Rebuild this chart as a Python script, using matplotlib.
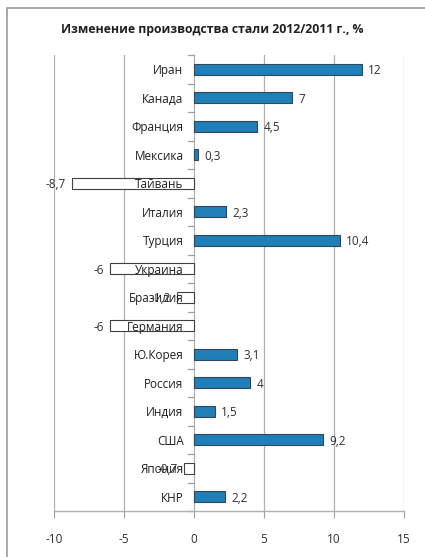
import matplotlib
matplotlib.use("Agg")
import matplotlib.pyplot as plt
from matplotlib.patches import Rectangle

categories = ["Иран", "Канада", "Франция", "Мексика", "Тайвань", "Италия", "Турция",
              "Украина", "Бразилия", "Германия", "Ю.Корея", "Россия", "Индия", "США",
              "Япония", "КНР"]
values = [12, 7, 4.5, 0.3, -8.7, 2.3, 10.4, -6, -1.2, -6, 3.1, 4, 1.5, 9.2, -0.7, 2.2]
value_labels = ["12", "7", "4,5", "0,3", "-8,7", "2,3", "10,4", "-6", "-1,2", "-6",
                "3,1", "4", "1,5", "9,2", "-0,7", "2,2"]
xticks = [-10, -5, 0, 5, 10, 15]
title = "Изменение производства стали 2012/2011 г., %"

plt.rcParams['font.family'] = ['Open Sans', 'DejaVu Sans']

W, H = 425, 557
fig = plt.figure(figsize=(W / 100, H / 100), dpi=100)
fig.patches.append(Rectangle((7 / W, -0.1), 1.2, 1 - 8 / H + 0.1, transform=fig.transFigure,
                             fill=False, edgecolor="#9a9a9a", linewidth=1.2))

ax = fig.add_axes([54 / W, 1 - 511 / H, 350 / W, (511 - 55) / H])
n = len(categories)
ypos = list(range(n))
for y, v in zip(ypos, values):
    if v >= 0:
        ax.barh(y, v, height=0.4, color="#1f7fb8", edgecolor="#33475a", linewidth=0.8, zorder=3)
    else:
        ax.barh(y, v, height=0.4, color="white", edgecolor="#404040", linewidth=0.8, zorder=3)

for y, v, lab in zip(ypos, values, value_labels):
    if v >= 0:
        ax.text(v + 0.45, y + 0.05, lab, ha="left", va="center", fontsize=8.5, color="#303030", zorder=4)
    else:
        ax.text(v - 0.45, y + 0.05, lab, ha="right", va="center", fontsize=8.5, color="#303030", zorder=4)

for y, c in zip(ypos, categories):
    ax.text(-0.75, y + 0.05, c, ha="right", va="center", fontsize=8.5, color="#202020", zorder=4)

ax.set_xlim(-10, 15)
ax.set_ylim(n - 0.5, -0.5)
ax.set_xticks(xticks)
ax.set_xticklabels([str(t) for t in xticks], fontsize=8.5, color="#303030")
ax.set_yticks([])
ax.tick_params(axis="x", length=5, color="#a0a0a0", pad=11)
for xv in xticks:
    ax.axvline(xv, color="#b0b0b0", linewidth=0.9, zorder=1)
# category separators on the zero axis
for k in range(n + 1):
    ax.plot([-0.4, 0], [k - 0.5, k - 0.5], color="#a0a0a0", linewidth=0.9, zorder=2, clip_on=False)
for s in ["top", "right", "left"]:
    ax.spines[s].set_visible(False)
ax.spines["bottom"].set_color("#b0b0b0")
ax.spines["bottom"].set_linewidth(1.0)

fig.text(0.5, 1 - 30 / H, title, ha="center", va="center", fontsize=8.8,
         fontweight="bold", color="#202020")

fig.savefig("out.png", dpi=100)
